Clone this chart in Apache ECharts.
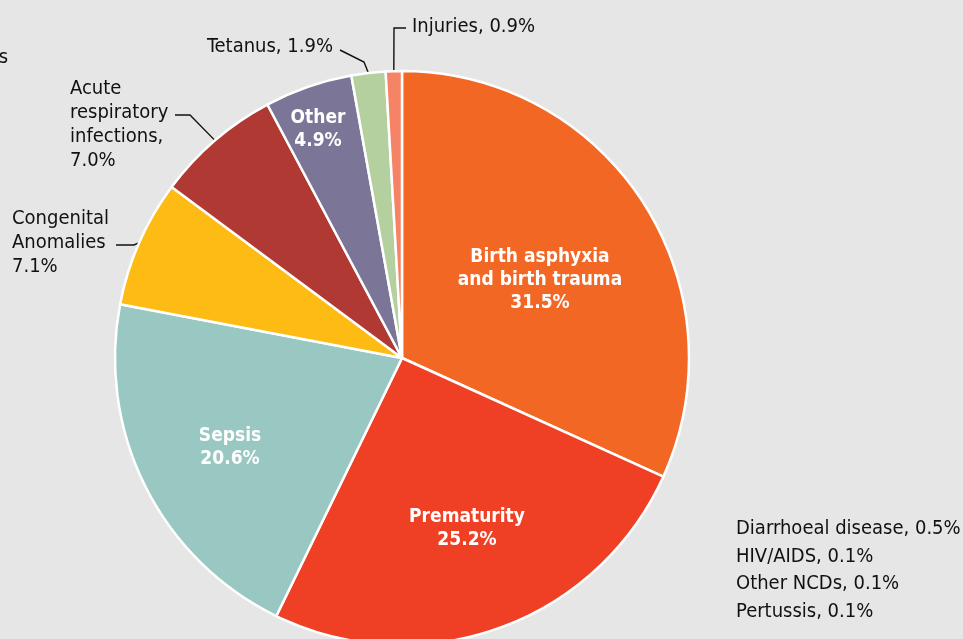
<!DOCTYPE html>
<html lang="en">
<head>
    <meta charset="UTF-8">
    <script src="https://cdn.jsdelivr.net/npm/echarts@6/dist/echarts.min.js"></script>
    <style>
        html, body { margin: 0; padding: 0; background: #e6e6e6; }
        #chart { width: 963px; height: 639px; }
    </style>
</head>
<body>
<div id="chart"></div>

<script>
    // causes drawn as slices, clockwise from 12 o'clock
    var causes = ['Birth asphyxia\nand birth trauma', 'Prematurity', 'Sepsis', 'Congenital\nAnomalies',
        'Acute\nrespiratory\ninfections,', 'Other', 'Tetanus,', 'Injuries,'];
    var shares = [31.5, 25.2, 20.6, 7.1, 7.0, 4.9, 1.9, 0.9];
    var colors = ['#f26724', '#ef4025', '#99c7c1', '#fdbb13', '#b03a33', '#7b7598', '#b5d09f', '#f58466'];
    var inside = [true, true, true, false, false, true, false, false];
    // very small causes, only listed as text
    var minorCauses = ['Diarrhoeal disease', 'HIV/AIDS', 'Other NCDs', 'Pertussis'];
    var minorShares = [0.5, 0.1, 0.1, 0.1];

    var font = '"Liberation Sans Narrow", "DejaVu Sans Condensed", "Roboto Condensed", sans-serif';

    // where each label sits: [x, y, align, knee x, knee y, end x, end y]
    var labelSpots = [
        [540, 280, 'center'],
        [467, 529, 'center'],
        [230, 448, 'center'],
        [12, 243, 'left', 134, 245, 116, 245],
        [70, 125, 'left', 190, 115, 175, 115],
        [318, 130, 'center'],
        [333, 47, 'right', 364, 62, 340, 50],
        [412, 27, 'left', 394, 28, 406, 28]
    ];

    var chart = echarts.init(document.getElementById('chart'));

    var pieData = causes.map(function (name, i) {
        var sep = (i === 6 || i === 7) ? ' ' : '\n';
        var item = {
            name: name,
            value: shares[i],
            itemStyle: { color: colors[i] },
            label: {
                formatter: name + sep + shares[i].toFixed(1) + '%'
            }
        };
        if (inside[i]) {
            item.label.position = 'inside';
            item.label.color = '#ffffff';
            item.label.fontWeight = 'bold';
            item.label.fontSize = 19;
            item.label.lineHeight = 23;
            item.labelLine = { show: false };
        } else {
            item.label.position = 'outside';
            item.label.color = '#111111';
            item.label.fontSize = 20;
            item.label.lineHeight = 24;
            item.labelLine = { show: true, length: 20, length2: 10, lineStyle: { color: '#111111', width: 1.4 } };
        }
        return item;
    });

    var minorText = minorCauses.map(function (n, i) {
        return n + ', ' + minorShares[i].toFixed(1) + '%';
    }).join('\n');

    var option = {
        backgroundColor: '#e6e6e6',
        textStyle: { fontFamily: font },
        animation: false,
        graphic: [
            {
                type: 'text', left: 736, top: 515,
                style: { text: minorText, fontFamily: font, fontSize: 20, lineHeight: 27.7, fill: '#111111' }
            },
            {
                type: 'text', right: 955, top: 48,
                style: { text: 's', fontFamily: font, fontSize: 20, fill: '#111111' }
            }
        ],
        series: [
            {
                type: 'pie',
                center: [402, 358],
                radius: 287,
                startAngle: 90,
                clockwise: true,
                avoidLabelOverlap: false,
                itemStyle: { borderColor: '#ffffff', borderWidth: 2.5 },
                label: { fontFamily: font },
                emphasis: { disabled: true },
                labelLayout: function (params) {
                    var s = labelSpots[params.dataIndex];
                    var out = { x: s[0], y: s[1], align: s[2], verticalAlign: 'middle', moveOverlap: false };
                    if (s.length > 3 && params.labelLinePoints) {
                        var start = params.labelLinePoints[0];
                        out.labelLinePoints = [[start[0], start[1]], [s[3], s[4]], [s[5], s[6]]];
                    }
                    return out;
                },
                data: pieData
            }
        ]
    };

    chart.setOption(option);
</script>
</body>
</html>
